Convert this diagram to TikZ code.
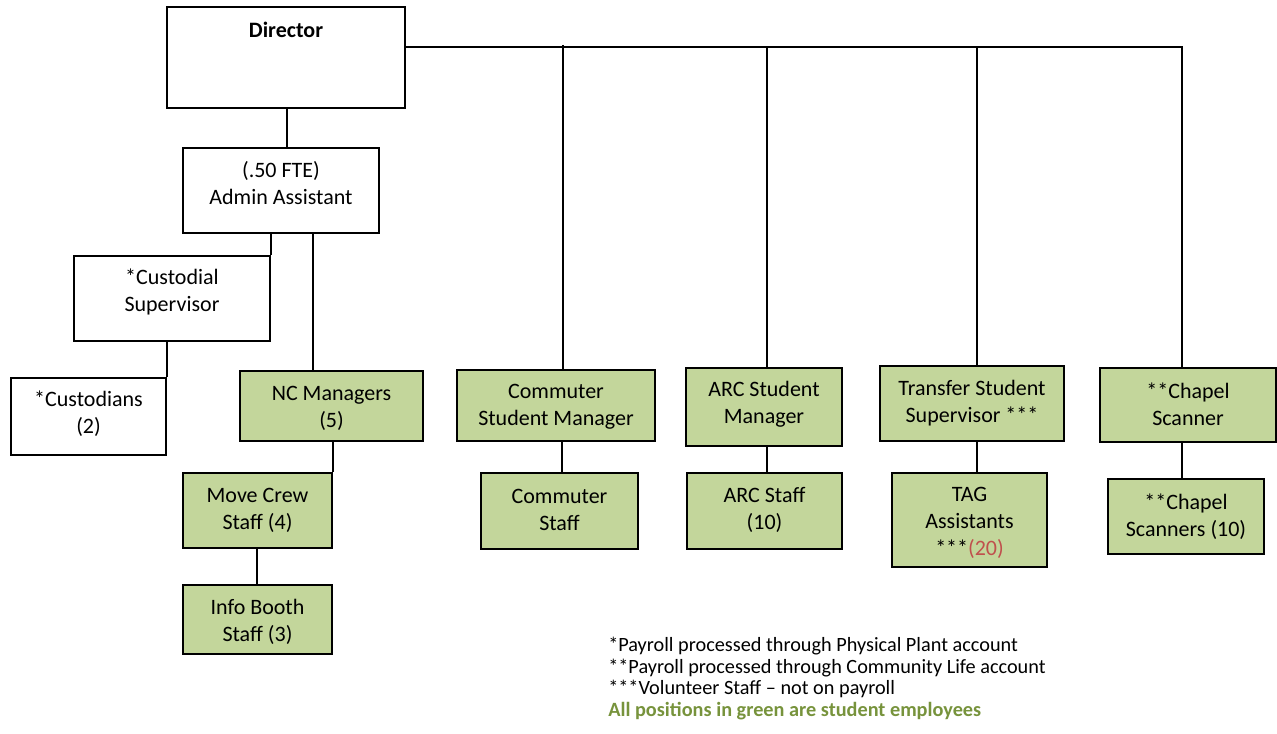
\documentclass[tikz,border=0pt]{standalone}
\usepackage{fontspec}
\setmainfont{Carlito}
\usetikzlibrary{fit}
\definecolor{stugreen}{HTML}{C3D69B}
\definecolor{notegreen}{HTML}{77933C}
\definecolor{notered}{HTML}{C0504D}
\tikzset{
  box/.style={draw, line width=1.5pt, inner sep=0pt},
  sbox/.style={box, fill=stugreen},
  txt/.style={inner sep=0pt, align=center, font=\fontsize{16.5pt}{20.25pt}\selectfont},
  conn/.style={line width=1.5pt},
  note/.style={anchor=base west, inner sep=0pt, font=\fontsize{15.2pt}{17pt}\selectfont}
}
\begin{document}
\begin{tikzpicture}[x=0.75pt,y=-0.75pt]
\useasboundingbox (0,0) rectangle (1277,734);
% boxes
\node[box, fit={(167,7) (405,108)}] (dir) {};
\node[box, fit={(183,148) (379,233)}] (adm) {};
\node[box, fit={(74,256) (270,341)}] (cs) {};
\node[box, fit={(11,378) (166,455)}] (cu) {};
\node[sbox, fit={(240,371) (423,441)}] (nc) {};
\node[sbox, fit={(183,473) (332,548)}] (mc) {};
\node[sbox, fit={(183,585) (332,654)}] (ib) {};
\node[sbox, fit={(457,370) (655,441)}] (csm) {};
\node[sbox, fit={(481,473) (638,549)}] (cst) {};
\node[sbox, fit={(686,368) (842,446)}] (asm) {};
\node[sbox, fit={(687,473) (842,549)}] (ast) {};
\node[sbox, fit={(880,366) (1064,441)}] (tss) {};
\node[sbox, fit={(892,473) (1047,567)}] (tag) {};
\node[sbox, fit={(1100,368) (1276,442)}] (chs) {};
\node[sbox, fit={(1108,479) (1264,554)}] (chss) {};
% texts
\node[txt, font=\fontsize{16.5pt}{20.25pt}\selectfont\bfseries] (dirT) at (286,30) {Director};
\node[txt] (admT) at (281,183.5) {(.50 FTE)\\Admin Assistant};
\node[txt] (csT) at (172,291.5) {*Custodial\\Supervisor};
\node[txt] (cuT) at (88.5,414) {*Custodians\\(2)};
\node[txt] (ncT) at (331.5,408.5) {NC Managers\\(5)};
\node[txt] (mcT) at (257.5,510) {Move Crew\\Staff (4)};
\node[txt] (ibT) at (257.5,622) {Info Booth\\Staff (3)};
\node[txt] (csmT) at (556,407) {Commuter\\Student Manager};
\node[txt] (cstT) at (559.5,510) {Commuter\\Staff};
\node[txt] (asmT) at (764,404) {ARC Student\\Manager};
\node[txt] (astT) at (764.5,510) {ARC Staff\\(10)};
\node[txt] (tssT) at (972,403) {Transfer Student\\Supervisor ***};
\node[txt] (tagT) at (969.5,523) {TAG\\Assistants\\{}***\textcolor{notered}{(20)}};
\node[txt] (chsT) at (1188,404) {**Chapel\\Scanner};
\node[txt] (chssT) at (1186,516.5) {**Chapel\\Scanners (10)};
% connectors
\coordinate (bus) at (1182,47);
\draw[conn] (dir.south -| 287,0) -- (adm.north -| 287,0);
\draw[conn] (dir.east |- bus) -- (bus) -- (chs.north -| bus);
\draw[conn] (563,45) -- (csm.north -| 563,0);
\draw[conn] (767,47) -- (asm.north -| 767,0);
\draw[conn] (977,47) -- (tss.north -| 977,0);
\draw[conn] (adm.south -| cs.north east) -- (cs.north east);
\draw[conn] (adm.south -| 313,0) -- (nc.north -| 313,0);
\draw[conn] (cs.south -| cu.north east) -- (cu.north east);
\draw[conn] (nc.south -| mc.north east) -- (mc.north east);
\draw[conn] (mc.south -| 257,0) -- (ib.north -| 257,0);
\draw[conn] (csm.south -| 562,0) -- (cst.north -| 562,0);
\draw[conn] (asm.south -| 767,0) -- (ast.north -| 767,0);
\draw[conn] (tss.south -| 977,0) -- (tag.north -| 977,0);
\draw[conn] (chs.south -| 1182,0) -- (chss.north -| 1182,0);
% notes
\node[note] (fn1) at (608,651) {*Payroll processed through Physical Plant account};
\node[note] (fn2) at (608,673) {**Payroll processed through Community Life account};
\node[note] (fn3) at (608,694) {***Volunteer Staff – not on payroll};
\node[note, text=notegreen, font=\fontsize{15.2pt}{17pt}\selectfont\bfseries] (fn4) at (608,716) {All positions in green are student employees};
\end{tikzpicture}
\end{document}
